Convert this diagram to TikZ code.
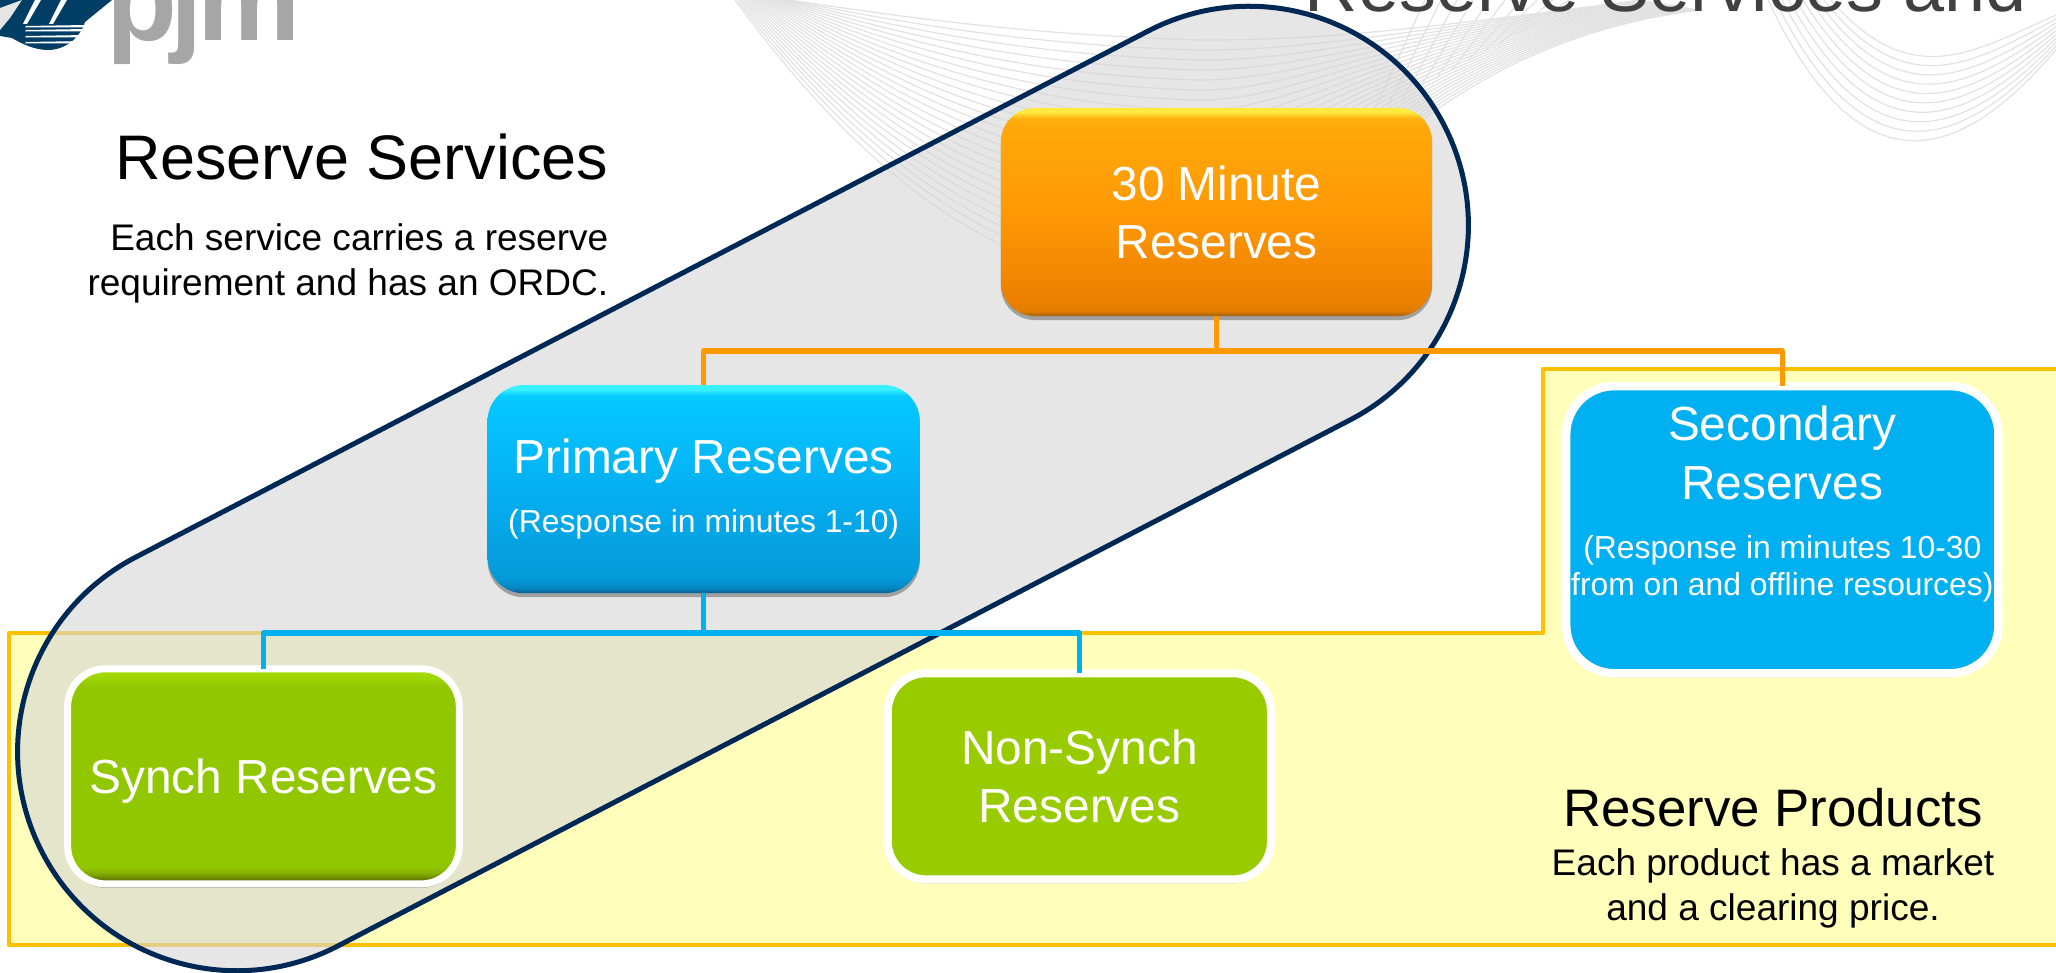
\documentclass[tikz,border=0pt]{standalone}
\usepackage{fontspec}
\setmainfont{Liberation Sans}
\usetikzlibrary{shapes,positioning,calc,shadows}
\definecolor{navy}{HTML}{002855}
\definecolor{logoblue}{HTML}{003E66}
\definecolor{wavegray}{HTML}{E2E2E2}
\definecolor{linkorange}{HTML}{FF9900}
\definecolor{linkblue}{HTML}{00B0F0}
\definecolor{prodfill}{HTML}{FFFFBB}
\definecolor{prodline}{HTML}{FFC000}
\definecolor{prodgreen}{HTML}{99CC00}
\pgfdeclareverticalshading{orangebevel}{100bp}{rgb(0bp)=(.62,.38,.05); rgb(25bp)=(.62,.38,.05); rgb(26.2bp)=(.88,.49,0); rgb(28.5bp)=(.92,.50,0); rgb(50bp)=(1,.60,.02); rgb(71bp)=(1,.66,.04); rgb(72.5bp)=(1,.70,.06); rgb(74bp)=(1,.92,.25); rgb(100bp)=(1,.92,.25)}
\pgfdeclareverticalshading{bluebevel}{100bp}{rgb(0bp)=(.02,.36,.55); rgb(25bp)=(.02,.36,.55); rgb(26.2bp)=(.02,.52,.75); rgb(28.5bp)=(.02,.60,.85); rgb(50bp)=(.02,.69,.95); rgb(71bp)=(.02,.78,1); rgb(72.5bp)=(.03,.80,1); rgb(74bp)=(.22,.95,1); rgb(100bp)=(.22,.95,1)}
\pgfdeclareverticalshading{greenbevel}{100bp}{rgb(0bp)=(.35,.45,0); rgb(26bp)=(.38,.48,0); rgb(27.5bp)=(.52,.68,0); rgb(29bp)=(.57,.78,0); rgb(71bp)=(.57,.78,0); rgb(73bp)=(.62,.84,0); rgb(75bp)=(.65,.87,0); rgb(100bp)=(.65,.87,0)}
\tikzstyle{boxbase} = [rectangle, outer sep=0pt, inner sep=0pt, text=white, align=center, font=\fontsize{13.6}{16.5}\selectfont, drop shadow={shadow xshift=0cm, shadow yshift=-0.04cm, opacity=.3, fill=black}]
\tikzstyle{orangebox} = [boxbase, shading=orangebevel, rounded corners=0.34cm, minimum width=4.31cm, minimum height=2.08cm]
\tikzstyle{bluebox} = [boxbase, shading=bluebevel, rounded corners=0.36cm, minimum width=4.32cm, minimum height=2.08cm]
\tikzstyle{greenbox} = [boxbase, shading=greenbevel, draw=white, line width=0.07cm, rounded corners=0.38cm, minimum width=3.915cm, minimum height=2.15cm]
\tikzstyle{flatgreen} = [boxbase, fill=prodgreen, draw=white, line width=0.08cm, rounded corners=0.38cm, minimum width=3.83cm, minimum height=2.06cm]
\tikzstyle{flatblue} = [boxbase, fill=linkblue, draw=white, line width=0.085cm, rounded corners=0.48cm, minimum width=4.32cm, minimum height=2.87cm]
\tikzstyle{capsule} = [rounded rectangle, draw=navy, line width=0.05cm, fill=black!16, fill opacity=.62, inner sep=0pt, minimum width=15.785cm, minimum height=4.38cm]
\tikzstyle{orangeline} = [draw=linkorange, line width=0.055cm, line join=round]
\tikzstyle{blueline} = [draw=linkblue, line width=0.055cm, line join=round]
\tikzstyle{wave} = [draw=wavegray, line width=0.35pt]
\tikzstyle{headtext} = [font=\fontsize{17.9}{21}\selectfont, inner sep=0pt]
\tikzstyle{bodytext} = [font=\fontsize{10.53}{12.8}\selectfont, inner sep=0pt]
\newcommand{\smalltext}{\fontsize{9.05}{10.9}\selectfont}
\begin{document}
\begin{tikzpicture}[x=0.01cm, y=-0.01cm]
    \useasboundingbox (0,0) rectangle (2056,973);

    % background waves
    \foreach \t in {0,0.04,...,1.01} {
        \draw[wave] ({735+55*\t},0) .. controls ({860+60*\t},{170-150*\t}) and ({1000+40*\t},{290-255*\t}) .. (1200,{290-250*\t})
            .. controls (1300,{290-250*\t}) and (1380,{50-15*\t}) .. ({1700-60*\t},{10-10*\t});
    }
    \foreach \i in {0,...,9} {
        \draw[wave] ({1768+7*\i},0) .. controls ({1860+6*\i},{195-11*\i}) and ({1960+2*\i},{165-13*\i}) .. (2060,{45-3.5*\i});
        \draw[wave] ({1372+16*\i},{115-9*\i}) -- ({1425+16*\i},0);
    }

    % logo and cut-off title
    \fill[logoblue] (0,0) -- (88,0) -- (112,0) -- (85,22) .. controls (80,38) and (65,50) .. (48,50) .. controls (35,50) and (22,44) .. (12,38) -- (0,36) -- cycle;
    \foreach \s in {26,30,36,42} {
        \fill[white] (26,\s) -- (86,{\s-1}) -- (84,{\s+1.5}) -- (25,{\s+1.5}) -- cycle;
    }
    \foreach \s in {32,58} {
        \fill[white] ({\s-9},24) -- ({\s+3},0) -- ({\s+9},0) -- ({\s-5},24) -- cycle;
    }
    \fill[white!80!gray] (0,8) -- (22,0) -- (10,18) -- (0,30) -- cycle;
    \node[anchor=base west, inner sep=0pt, text=gray!70, font=\fontsize{33}{38}\bfseries\selectfont] (logo) at (106,41) {p\kern-2pt j\kern-1.5pt m};
    \node[anchor=base west, inner sep=0pt, text=black!75, font=\fontsize{21}{25}\selectfont] (title) at (1304,12) {Reserve Services and};

    % product area and service capsule
    \draw[draw=prodline, fill=prodfill, line width=0.045cm, line join=round] (9,633) -- (1543,633) -- (1543,369) -- (2080,369) -- (2080,945) -- (9,945) -- cycle;
    \node[capsule, rotate=27.46] (services) at (743,488.5) {};

    % reserve boxes
    \node[orangebox] (thirtymin) at (1216.5,212) {30 Minute\\Reserves};
    \node[bluebox, below of=thirtymin, node distance=2.77cm, xshift=-5.125cm] (primary) {Primary Reserves\\[0.3pt]{\smalltext (Response in minutes 1-10)}};
    \node[flatblue, below of=thirtymin, node distance=3.175cm, xshift=5.655cm] (secondary) {Secondary\\Reserves\\[0.3pt]{\smalltext (Response in minutes 10-30}\\[-6pt]{\smalltext from on and offline resources)}\\[0pt]\mbox{}};
    \node[greenbox, below of=primary, node distance=2.87cm, xshift=-4.40cm, text height=0.34cm, text depth=0cm] (synch) {Synch Reserves};
    \node[flatgreen, below of=primary, node distance=2.87cm, xshift=3.755cm] (nonsynch) {Non-Synch\\Reserves};

    % side texts
    \node[headtext, anchor=base east] (servtitle) at (609,180) {Reserve Services};
    \node[bodytext, anchor=north east, align=right] (servtext) at (609,223) {Each service carries a reserve\\requirement and has an ORDC.};
    \node[anchor=base, inner sep=0pt, font=\fontsize{15}{18}\selectfont] (prodtitle) at (1773,827) {Reserve Products};
    \node[bodytext, anchor=north, align=center] (prodtext) at (1773,848) {Each product has a market\\and a clearing price.};

    % connectors
    \draw[orangeline] (thirtymin.south) -- ++(0,35) -| (primary.north);
    \draw[orangeline] (thirtymin.south) -- ++(0,35) -| (secondary.north);
    \draw[blueline] (primary.south) -- ++(0,40) -| (synch.north);
    \draw[blueline] (primary.south) -- ++(0,40) -| (nonsynch.north);
\end{tikzpicture}
\end{document}
